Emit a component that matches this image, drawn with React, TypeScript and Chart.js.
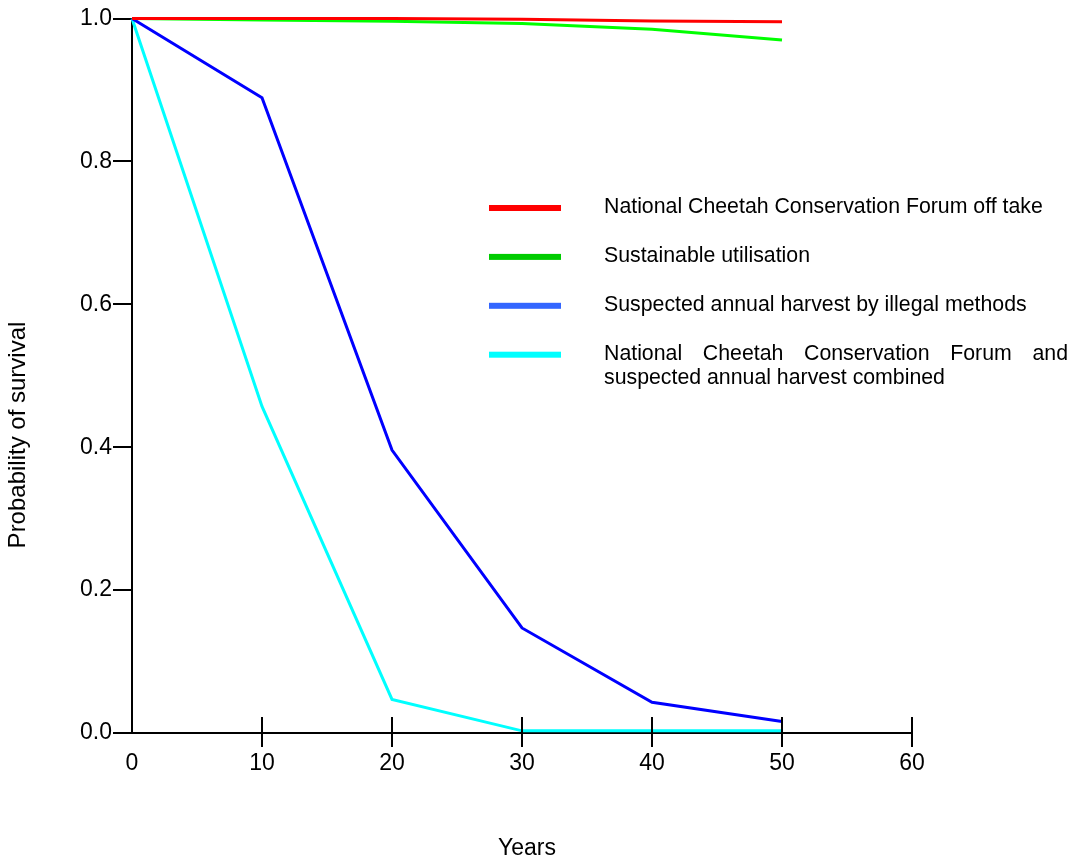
import React, { useEffect, useRef } from "react";
import { Chart, registerables } from "chart.js";

Chart.register(...registerables);

// ---- data ----
const years = [0, 10, 20, 30, 40, 50];
const ncfOffTake = [1.0, 1.0, 1.0, 0.999, 0.9965, 0.9955];
const sustainableUse = [1.0, 0.998, 0.9962, 0.993, 0.985, 0.97];
const illegalHarvest = [1.0, 0.889, 0.396, 0.147, 0.043, 0.016];
const combinedHarvest = [1.0, 0.457, 0.047, 0.003, 0.003, 0.003];

const seriesLabels = [
  "National Cheetah Conservation Forum off take",
  "Sustainable utilisation",
  "Suspected annual harvest by illegal methods",
  "National Cheetah Conservation Forum and suspected annual harvest combined",
];
const xTickValues = [0, 10, 20, 30, 40, 50, 60];
const yTickValues = [0, 0.2, 0.4, 0.6, 0.8, 1.0];
const xTitle = "Years";
const yTitle = "Probability of survival";

// ---- styles ----
const lineColors = ["#ff0000", "#00ff00", "#0000ff", "#00ffff"];
const legendColors = ["#ff0000", "#00cc00", "#3366ff", "#00ffff"];
const FONT = "'Liberation Sans', Arial, sans-serif";

const overlayPlugin = {
  id: "overlay",
  beforeDraw(chart: any) {
    const { ctx, width, height } = chart;
    ctx.save();
    ctx.fillStyle = "#ffffff";
    ctx.fillRect(0, 0, width, height);
    ctx.restore();
  },
  afterDraw(chart: any) {
    const { ctx } = chart;
    const xs = chart.scales.x;
    const ys = chart.scales.y;
    ctx.save();
    // inner half of the crossing x tick marks
    ctx.strokeStyle = "#000";
    ctx.lineWidth = 2;
    const y0 = Math.round(ys.getPixelForValue(0));
    xTickValues.forEach((v) => {
      if (v === 0) return;
      const px = Math.round(xs.getPixelForValue(v));
      ctx.beginPath();
      ctx.moveTo(px, y0);
      ctx.lineTo(px, y0 - 16);
      ctx.stroke();
    });

    // axis titles
    ctx.fillStyle = "#000";
    ctx.textAlign = "center";
    ctx.textBaseline = "middle";
    ctx.font = `23px ${FONT}`;
    ctx.fillText(xTitle, 527, 849);
    ctx.save();
    ctx.translate(18, 435);
    ctx.rotate(-Math.PI / 2);
    ctx.font = `24px ${FONT}`;
    ctx.fillText(yTitle, 0, 0);
    ctx.restore();

    // legend
    const textX = 604;
    const maxW = 1068 - textX;
    ctx.font = `21.3px ${FONT}`;
    ctx.textAlign = "left";
    const datasets = chart.data.datasets;
    datasets.forEach((ds: any, i: number) => {
      const rowY = 207 + i * 48.9;
      ctx.fillStyle = legendColors[i];
      ctx.fillRect(489, rowY - 2, 72, 6);
      ctx.fillStyle = "#000";
      const words = String(ds.label).split(" ");
      const lines: string[][] = [];
      let cur: string[] = [];
      words.forEach((w) => {
        const test = [...cur, w].join(" ");
        if (cur.length && ctx.measureText(test).width > maxW) {
          lines.push(cur);
          cur = [w];
        } else cur.push(w);
      });
      if (cur.length) lines.push(cur);
      lines.forEach((ln, li) => {
        const ly = rowY + li * 24;
        if (li < lines.length - 1 && ln.length > 1) {
          const ws = ln.map((w) => ctx.measureText(w).width);
          const total = ws.reduce((a, b) => a + b, 0);
          const gap = (maxW - total) / (ln.length - 1);
          let x = textX;
          ln.forEach((w, k) => {
            ctx.fillText(w, x, ly);
            x += ws[k] + gap;
          });
        } else {
          ctx.fillText(ln.join(" "), textX, ly);
        }
      });
    });
    ctx.restore();
  },
};

export default function App() {
  const ref = useRef<HTMLCanvasElement | null>(null);
  useEffect(() => {
    if (!ref.current) return;
    const series = [ncfOffTake, sustainableUse, illegalHarvest, combinedHarvest];
    const chart = new Chart(ref.current, {
      type: "line",
      data: {
        datasets: series.map((vals, i) => ({
          label: seriesLabels[i],
          data: years.map((x, k) => ({ x, y: vals[k] })),
          borderColor: lineColors[i],
          backgroundColor: lineColors[i],
          borderWidth: 3,
          pointRadius: 0,
          tension: 0,
          fill: false,
          clip: false as any,
        })),
      },
      options: {
        animation: false,
        responsive: false,
        devicePixelRatio: 1,
        layout: { padding: { top: 18.5, right: 165, bottom: 0, left: 0 } },
        plugins: { legend: { display: false }, tooltip: { enabled: false }, title: { display: false } },
        scales: {
          x: {
            type: "linear",
            min: 0,
            max: 60,
            afterFit: (s: any) => {
              s.height = 130;
            },
            afterBuildTicks: (s: any) => {
              s.ticks = xTickValues.map((v) => ({ value: v }));
            },
            ticks: {
              padding: 3,
              color: "#000",
              maxRotation: 0,
              font: { family: FONT, size: 23 },
              callback: (v: any) => String(v),
            },
            grid: {
              display: true,
              drawOnChartArea: false,
              drawTicks: true,
              tickLength: 14,
              lineWidth: 2,
              color: (c: any) => (c.tick && c.tick.value === 0 ? "rgba(0,0,0,0)" : "#000"),
            },
            border: { display: true, color: "#000", width: 2 },
          },
          y: {
            type: "linear",
            min: 0,
            max: 1,
            afterFit: (s: any) => {
              s.width = 132;
            },
            afterBuildTicks: (s: any) => {
              s.ticks = yTickValues.map((v) => ({ value: v }));
            },
            ticks: {
              padding: 1,
              color: "#000",
              font: { family: FONT, size: 23 },
              callback: (v: any) => Number(v).toFixed(1),
            },
            grid: {
              display: true,
              drawOnChartArea: false,
              drawTicks: true,
              tickLength: 19,
              lineWidth: 2,
              color: "#000",
            },
            border: { display: true, color: "#000", width: 2 },
          },
        },
      },
      plugins: [overlayPlugin],
    });
    return () => chart.destroy();
  }, []);
  return (
    <div style={{ position: "absolute", left: 0, top: 0, width: 1077, height: 863 }}>
      <canvas ref={ref} width={1077} height={863} />
    </div>
  );
}
